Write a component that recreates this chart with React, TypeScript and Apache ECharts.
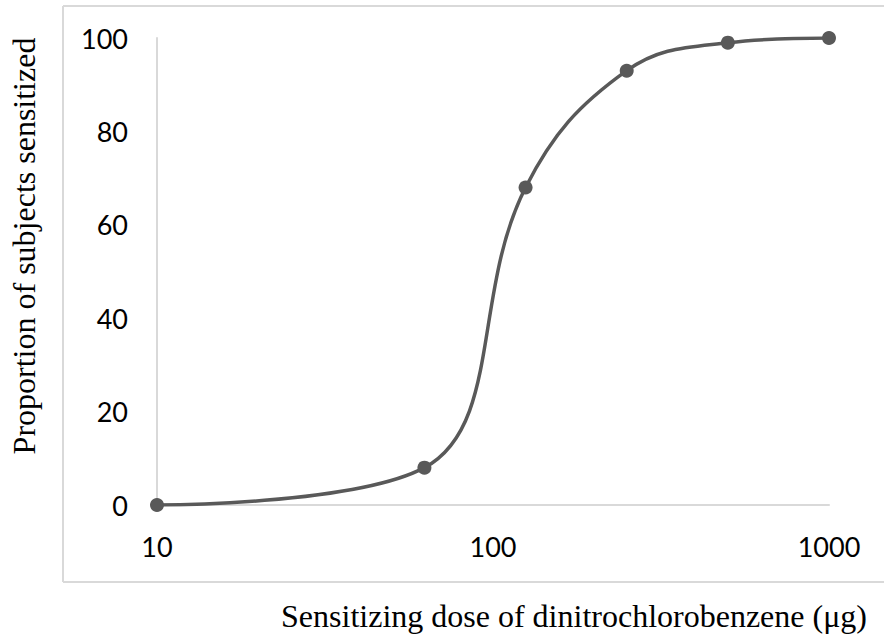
import React, { useEffect, useRef } from "react";
import * as echarts from "echarts";

const doses = [10, 62.5, 125, 250, 500, 1000];
const proportions = [0, 8, 68, 93, 99, 100];
const yTicks = [0, 20, 40, 60, 80, 100];
const xTitle = "Sensitizing dose of dinitrochlorobenzene (μg)";
const yTitle = "Proportion of subjects sensitized";

const serif = "'Liberation Serif', 'Times New Roman', Times, serif";

export default function App() {
  const ref = useRef<HTMLDivElement>(null);
  useEffect(() => {
    if (!ref.current) return;
    const chart = echarts.init(ref.current, null, { renderer: "svg" });
    const border = { stroke: "#d9d9d9", lineWidth: 2 };
    chart.setOption({
      animation: false,
      backgroundColor: "#ffffff",
      grid: {
        left: 157,
        right: 55,
        top: 38,
        bottom: 133,
        containLabel: false,
        outerBoundsMode: "none",
      },
      graphic: [
        { type: "line", shape: { x1: 63, y1: 6, x2: 900, y2: 6 }, style: border, silent: true },
        { type: "line", shape: { x1: 63, y1: 6, x2: 63, y2: 582 }, style: border, silent: true },
        { type: "line", shape: { x1: 63, y1: 582, x2: 900, y2: 582 }, style: border, silent: true },
        {
          type: "text",
          x: 574,
          y: 616,
          style: {
            text: xTitle,
            fontFamily: serif,
            fontSize: 32,
            fill: "#000",
            align: "center",
            verticalAlign: "middle",
          },
        },
        {
          type: "text",
          x: 24,
          y: 246,
          rotation: Math.PI / 2,
          style: {
            text: yTitle,
            fontFamily: serif,
            fontSize: 32,
            fill: "#000",
            align: "center",
            verticalAlign: "middle",
          },
        },
      ],
      xAxis: {
        type: "log",
        logBase: 10,
        min: 10,
        max: 1000,
        axisLine: { show: true, lineStyle: { color: "#d9d9d9", width: 2 } },
        axisTick: { show: false },
        splitLine: { show: false },
        minorTick: { show: false },
        axisLabel: {
          color: "#000",
          fontFamily: "Lato",
          fontSize: 27,
          margin: 28,
          formatter: (v: number) => String(Math.round(v)),
        },
      },
      yAxis: {
        type: "value",
        min: 0,
        max: 100,
        interval: 20,
        axisLine: { show: true, lineStyle: { color: "#d9d9d9", width: 2 } },
        axisTick: { show: false },
        splitLine: { show: false },
        axisLabel: {
          color: "#000",
          fontFamily: "Lato",
          fontSize: 27,
          margin: 29,
          formatter: (v: number) => (yTicks.includes(v) ? String(v) : ""),
        },
      },
      series: [
        {
          type: "line",
          data: doses.map((d, i) => [d, proportions[i]]),
          smooth: 0.4,
          symbol: "circle",
          symbolSize: 14,
          itemStyle: { color: "#595959" },
          lineStyle: { color: "#595959", width: 3.5 },
        },
      ],
    });
    return () => chart.dispose();
  }, []);
  return (
    <div
      ref={ref}
      style={{ width: 884, height: 638, position: "absolute", left: 0, top: 0, overflow: "hidden" }}
    />
  );
}
